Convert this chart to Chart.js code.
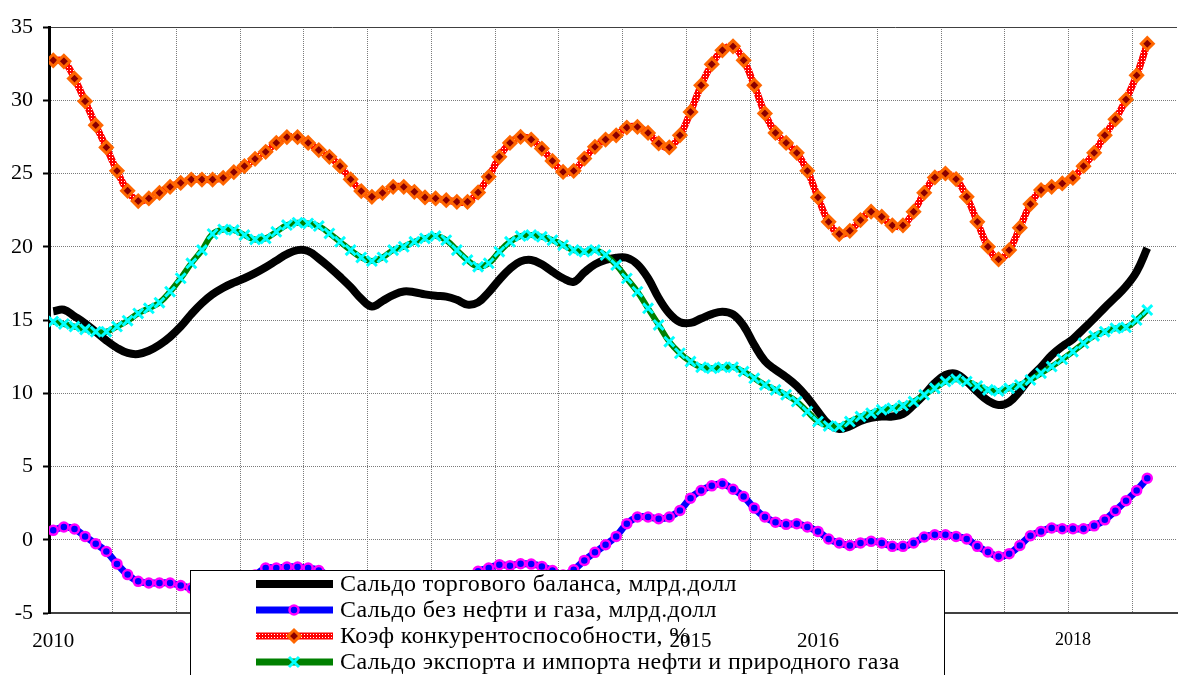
<!DOCTYPE html>
<html lang="ru">
<head>
<meta charset="utf-8">
<title>Сальдо торгового баланса</title>
<script src="https://cdn.jsdelivr.net/npm/chart.js"></script>
<style>
  html, body { margin: 0; padding: 0; background: #fff; overflow: hidden; }
  #wrap { width: 1187px; height: 675px; }
</style>
</head>
<body>
<div id="wrap"><canvas id="chart" width="1187" height="675"></canvas></div>
<script>
// помесячные значения, январь 2010 - август 2018
const saldoTotal = [
  15.6, 15.7, 15.25, 14.77, 14.2, 13.6, 13.1, 12.75, 12.68, 12.9, 13.3, 13.85,
  14.55, 15.4, 16.15, 16.75, 17.2, 17.55, 17.85, 18.2, 18.6, 19.05, 19.5, 19.77,
  19.7, 19.2, 18.6, 17.95, 17.25, 16.45, 15.92, 16.3, 16.7, 16.95, 16.9, 16.75,
  16.65, 16.6, 16.38, 16.05, 16.2, 16.9, 17.75, 18.5, 19.0, 19.1, 18.8, 18.3,
  17.85, 17.6, 18.25, 18.8, 19.1, 19.25, 19.25, 18.8, 17.85, 16.5, 15.45, 14.85,
  14.8, 15.1, 15.4, 15.57, 15.38, 14.6, 13.3, 12.2, 11.6, 11.1, 10.5, 9.7,
  8.75, 7.9, 7.56, 7.75, 8.1, 8.32, 8.41, 8.41, 8.58, 9.2, 9.9, 10.7,
  11.25, 11.33, 10.8, 10.1, 9.5, 9.2, 9.4, 10.15, 11.07, 11.8, 12.6, 13.2,
  13.7, 14.4, 15.1, 15.85, 16.55, 17.3, 18.3, 19.9
];
const saldoNoOilGas = [
  0.64, 0.87, 0.73, 0.23, -0.27, -0.8, -1.65, -2.38, -2.84, -2.95, -2.95, -2.95,
  -3.13, -3.3, -3.4, -3.3, -3.0, -2.7, -2.5, -2.4, -1.93, -1.93, -1.86, -1.86,
  -1.93, -2.1, -2.5, -3.0, -3.4, -3.7, -3.8, -3.7, -3.5, -3.3, -3.1, -3.0,
  -2.9, -2.8, -2.7, -2.5, -2.15, -1.93, -1.7, -1.77, -1.64, -1.66, -1.82, -2.1,
  -2.4, -2.05, -1.41, -0.86, -0.34, 0.23, 1.09, 1.55, 1.55, 1.43, 1.55, 2.0,
  2.84, 3.36, 3.68, 3.82, 3.45, 2.95, 2.16, 1.55, 1.2, 1.05, 1.09, 0.87,
  0.57, 0.05, -0.22, -0.39, -0.22, -0.11, -0.22, -0.45, -0.45, -0.22, 0.19, 0.34,
  0.34, 0.23, 0.05, -0.45, -0.84, -1.14, -0.95, -0.39, 0.27, 0.57, 0.8, 0.75,
  0.75, 0.75, 0.95, 1.36, 1.98, 2.66, 3.36, 4.2
];
const competitiveness = [
  32.73, 32.66, 31.48, 29.93, 28.3, 26.78, 25.18, 23.82, 23.12, 23.3, 23.68, 24.09,
  24.36, 24.59, 24.59, 24.59, 24.7, 25.09, 25.5, 26.0, 26.48, 27.09, 27.48, 27.48,
  27.09, 26.6, 26.14, 25.5, 24.6, 23.8, 23.41, 23.68, 24.09, 24.09, 23.75, 23.37,
  23.3, 23.18, 23.07, 23.07, 23.71, 24.77, 26.14, 27.09, 27.5, 27.32, 26.7, 25.86,
  25.11, 25.18, 26.02, 26.82, 27.32, 27.61, 28.14, 28.18, 27.77, 27.05, 26.78, 27.61,
  29.2, 31.02, 32.46, 33.41, 33.68, 32.73, 31.02, 29.1, 27.77, 27.09, 26.41, 25.18,
  23.37, 21.7, 20.87, 21.09, 21.82, 22.39, 22.05, 21.46, 21.46, 22.39, 23.68, 24.73,
  25.0, 24.62, 23.41, 21.7, 20.0, 19.14, 19.77, 21.3, 22.91, 23.87, 24.09, 24.32,
  24.7, 25.5, 26.41, 27.61, 28.7, 30.05, 31.7, 33.86
];
const saldoOilGas = [
  14.89, 14.73, 14.55, 14.36, 14.2, 14.2, 14.55, 14.95, 15.45, 15.8, 16.18, 16.93,
  17.85, 18.87, 19.77, 20.87, 21.18, 21.14, 20.8, 20.5, 20.57, 21.02, 21.48, 21.64,
  21.59, 21.41, 20.91, 20.34, 19.77, 19.27, 19.02, 19.27, 19.77, 20.0, 20.34, 20.57,
  20.73, 20.45, 19.77, 19.09, 18.64, 18.87, 19.66, 20.34, 20.73, 20.8, 20.68, 20.45,
  20.11, 19.77, 19.66, 19.77, 19.43, 18.75, 17.84, 16.93, 15.8, 14.66, 13.52, 12.73,
  12.16, 11.78, 11.7, 11.78, 11.78, 11.48, 11.02, 10.57, 10.23, 9.89, 9.43, 8.75,
  8.07, 7.77, 7.73, 8.07, 8.41, 8.64, 8.87, 8.98, 9.16, 9.43, 9.89, 10.34,
  10.8, 10.96, 10.8, 10.5, 10.23, 10.16, 10.34, 10.57, 10.91, 11.37, 11.82, 12.32,
  12.84, 13.41, 13.91, 14.2, 14.43, 14.5, 15.0, 15.68
];

const seriesNames = [
  "Сальдо торгового баланса, млрд.долл",
  "Сальдо без нефти и газа, млрд.долл",
  "Коэф конкурентоспособности, %",
  "Сальдо экспорта и импорта нефти и природного газа"
];

// подписи по оси X: год и номер месяца от января 2010
const yearLabels = ["2010", "2015", "2016", "2018"];
const yearLabelMonths = [0, 60, 72, 96];

// вертикальная сетка - каждые полгода
const gridMonths = [];
for (let m = -0.4; m < 105; m += 6) gridMonths.push(m);

const xMin = -0.4, xMax = 105.8;
const serif = "'Liberation Serif', 'Times New Roman', serif";

const toPoints = (arr) => arr.map((v, i) => ({ x: i, y: v }));

const canvas = document.getElementById("chart");
const ctx = canvas.getContext("2d");

// красная линия в "клеточку"
function makeRedPattern(c) {
  const p = document.createElement("canvas");
  p.width = 3;
  p.height = 3;
  const pc = p.getContext("2d");
  pc.fillStyle = "#ff0000";
  pc.fillRect(0, 0, 3, 3);
  pc.fillStyle = "#ffffff";
  pc.fillRect(1, 1, 1, 1);
  return c.createPattern(p, "repeat");
}
const redPattern = makeRedPattern(ctx);

// легенда рисуется поверх линий, как в оригинале
const legendBox = {
  id: "legendBox",
  afterDatasetsDraw(chart) {
    const c = chart.ctx;
    const left = 190, top = 570, right = 944;
    c.save();
    c.fillStyle = "#fff";
    c.fillRect(left, top, right - left, 120);
    c.strokeStyle = "#000";
    c.lineWidth = 1;
    c.strokeRect(left + 0.5, top + 0.5, right - left, 120);

    const rows = [584, 610, 636, 662];
    const x1 = 256, x2 = 333, mx = 294;
    c.lineCap = "butt";
    // 1 - черная
    c.strokeStyle = "#000";
    c.lineWidth = 8;
    c.beginPath(); c.moveTo(x1, rows[0]); c.lineTo(x2, rows[0]); c.stroke();
    // 2 - синяя с кружком
    c.strokeStyle = "#0000ff";
    c.lineWidth = 7;
    c.beginPath(); c.moveTo(x1, rows[1]); c.lineTo(x2, rows[1]); c.stroke();
    c.fillStyle = "#0000ff";
    c.strokeStyle = "#ff00ff";
    c.lineWidth = 2.5;
    c.beginPath(); c.arc(mx, rows[1], 4.5, 0, Math.PI * 2); c.fill(); c.stroke();
    // 3 - красная с ромбом
    c.strokeStyle = redPattern;
    c.lineWidth = 7;
    c.beginPath(); c.moveTo(x1, rows[2]); c.lineTo(x2, rows[2]); c.stroke();
    c.fillStyle = "#8b0000";
    c.strokeStyle = "#ff6600";
    c.lineWidth = 3;
    c.beginPath();
    c.moveTo(mx, rows[2] - 6); c.lineTo(mx + 6, rows[2]);
    c.lineTo(mx, rows[2] + 6); c.lineTo(mx - 6, rows[2]);
    c.closePath(); c.fill(); c.stroke();
    // 4 - зеленая с крестиком
    c.strokeStyle = "#008000";
    c.lineWidth = 7;
    c.beginPath(); c.moveTo(x1, rows[3]); c.lineTo(x2, rows[3]); c.stroke();
    c.strokeStyle = "#00ffff";
    c.lineWidth = 3;
    c.beginPath();
    c.moveTo(mx - 5, rows[3] - 5); c.lineTo(mx + 5, rows[3] + 5);
    c.moveTo(mx + 5, rows[3] - 5); c.lineTo(mx - 5, rows[3] + 5);
    c.stroke();

    c.fillStyle = "#000";
    c.font = "24px " + serif;
    if ("letterSpacing" in c) c.letterSpacing = "0.4px";
    c.textBaseline = "middle";
    c.textAlign = "left";
    seriesNames.forEach((name, i) => c.fillText(name, 340, rows[i] + 1));
    c.restore();
  }
};

new Chart(ctx, {
  type: "line",
  data: {
    datasets: [
      {
        label: seriesNames[0],
        data: toPoints(saldoTotal),
        borderColor: "#000",
        borderWidth: 8,
        pointRadius: 0,
        tension: 0.4,
        order: 4
      },
      {
        label: seriesNames[1],
        data: toPoints(saldoNoOilGas),
        borderColor: "#0000ff",
        borderWidth: 7,
        pointStyle: "circle",
        pointRadius: 4.5,
        pointBorderWidth: 2.5,
        pointBorderColor: "#ff00ff",
        pointBackgroundColor: "#0000ff",
        tension: 0.4,
        order: 3
      },
      {
        label: seriesNames[2],
        data: toPoints(competitiveness),
        borderColor: redPattern,
        borderWidth: 7,
        pointStyle: "rectRot",
        pointRadius: 6,
        pointBorderWidth: 3,
        pointBorderColor: "#ff6600",
        pointBackgroundColor: "#8b0000",
        tension: 0.4,
        order: 2
      },
      {
        label: seriesNames[3],
        data: toPoints(saldoOilGas),
        borderColor: "#008000",
        borderWidth: 6,
        pointStyle: "crossRot",
        pointRadius: 7,
        pointBorderWidth: 3,
        pointBorderColor: "#00ffff",
        tension: 0.4,
        order: 1
      }
    ]
  },
  options: {
    responsive: false,
    animation: false,
    events: [],
    layout: { padding: { top: 27, left: 0, right: 0, bottom: 0 } },
    plugins: {
      legend: { display: false },
      tooltip: { enabled: false }
    },
    scales: {
      x: {
        type: "linear",
        min: xMin,
        max: xMax,
        afterBuildTicks: (s) => { s.ticks = gridMonths.map((v) => ({ value: v })); },
        afterFit: (s) => { s.height = 0; },
        ticks: { display: false },
        grid: { color: "#7a7a7a", lineWidth: 1, drawTicks: false },
        border: { display: true, color: "#404040", width: 2, dash: [1, 1] }
      },
      x2: {
        type: "linear",
        position: "bottom",
        min: xMin,
        max: xMax,
        afterBuildTicks: (s) => { s.ticks = yearLabelMonths.map((v) => ({ value: v })); },
        afterFit: (s) => { s.height = 62; },
        grid: { display: false },
        border: { display: false },
        ticks: {
          z: 1, // подписи годов поверх легенды
          autoSkip: false,
          maxRotation: 0,
          padding: 8,
          color: "#000",
          font: (c) => ({ family: serif, size: c.tick && c.tick.value === 96 ? 18 : 21 }),
          callback: (v) => {
            const k = yearLabelMonths.indexOf(v);
            return k >= 0 ? yearLabels[k] : "";
          }
        }
      },
      y: {
        min: -5,
        max: 35,
        afterFit: (s) => { s.width = 49; },
        ticks: {
          stepSize: 5,
          color: "#000",
          padding: 10,
          font: { family: serif, size: 22 }
        },
        grid: {
          color: (c) => (c.tick && c.tick.value === 35 ? "#404040" : "#7a7a7a"),
          lineWidth: 1,
          tickColor: "#000",
          tickLength: 6,
          tickWidth: 2
        },
        border: {
          color: "#000",
          width: 3,
          dash: (c) => (c.tick && c.tick.value === 35 ? [] : [1, 1])
        }
      }
    }
  },
  plugins: [legendBox]
});
</script>
</body>
</html>
